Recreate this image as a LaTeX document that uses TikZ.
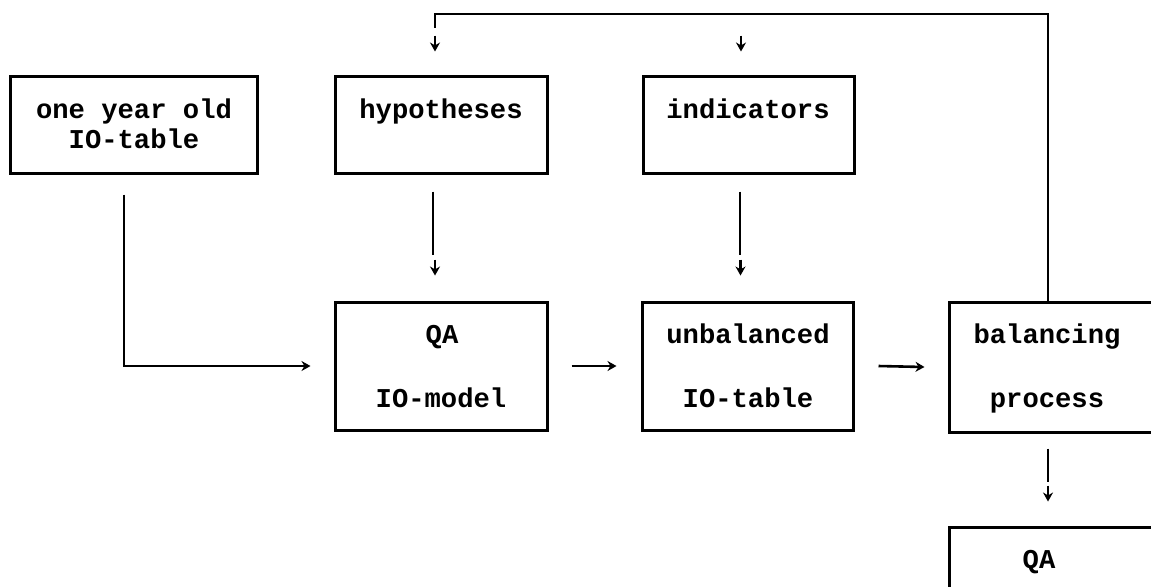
\documentclass[tikz,border=0pt]{standalone}
\usepackage{fontspec}
\setmainfont{Liberation Mono}
\usetikzlibrary{arrows.meta,calc}
\begin{document}
\begin{tikzpicture}[x=0.5pt,y=-0.5pt,
  box/.style={draw,line width=1.5pt,inner sep=0pt},
  txt/.style={font=\fontsize{13.6}{12}\bfseries\selectfont,inner sep=0pt,anchor=base},
  ln/.style={line width=1.3pt},
  arr/.style={line width=1.3pt,-{Stealth[length=4.5pt,width=5pt]}}]
\useasboundingbox (0,0) rectangle (1151,586);
\clip (0,0) rectangle (1151,586);
% boxes
\node[box,minimum width=123.5pt,minimum height=48.5pt] (old) at (133.5,124.5) {};
\node[box,minimum width=106pt,minimum height=48.5pt] (hyp) at (441,124.5) {};
\node[box,minimum width=105.5pt,minimum height=48.5pt] (ind) at (748.5,124.5) {};
\node[box,minimum width=106pt,minimum height=64pt] (qa) at (441,366) {};
\node[box,minimum width=105.5pt,minimum height=64pt] (unb) at (747.5,366) {};
\node[box,minimum width=106pt,minimum height=65pt] (bal) at (1055,367) {};
\node[box,minimum width=106pt,minimum height=64pt] (qab) at (1055,591) {};
% texts
\node[txt] (t1) at (134,118) {one year old};
\node[txt] (t2) at (134,148) {IO-table};
\node[txt] (t3) at (441,118) {hypotheses};
\node[txt] (t4) at (748,118) {indicators};
\node[txt] (t5) at (442,343) {QA};
\node[txt] (t6) at (441,407) {IO-model};
\node[txt] (t7) at (748,343) {unbalanced};
\node[txt] (t8) at (748,407) {IO-table};
\node[txt] (t9) at (1047,343) {balancing};
\node[txt] (t10) at (1047,407) {process};
\node[txt] (t11) at (1039,568) {QA};
% old -> qa
\coordinate (c1) at ($(old.south)+(-9.5,20)$);
\coordinate (c2) at (c1 |- qa.west);
\draw[arr] (c1) -- (c2) -- ($(qa.west)+(-23,0)$);
% horizontal arrows
\draw[arr] ($(qa.east)+(23,0)$) -- ($(unb.west)+(-24,0)$);
\draw[arr] ($(unb.east)+(24,0)$) -- ($(bal.west)+(-23,0)$);
% hyp -> qa
\draw[ln] ($(hyp.south)+(-8,17)$) -- ($(hyp.south)+(-8,80)$);
\draw[arr] ($(qa.north)+(-6,-41)$) -- ($(qa.north)+(-6,-25)$);
% ind -> unb
\draw[ln] ($(ind.south)+(-8.5,17)$) -- ($(ind.south)+(-8.5,80)$);
\draw[arr] ($(unb.north)+(-7,-41)$) -- ($(unb.north)+(-7,-25)$);
% bal -> qab
\draw[ln] ($(bal.south)+(-7,15)$) -- ($(bal.south)+(-7,48)$);
\draw[arr] ($(qab.north)+(-7,-40)$) -- ($(qab.north)+(-7,-24)$);
% feedback
\coordinate (f1) at ($(bal.north)+(-7,0)$);
\coordinate (f2) at (1048,14);
\coordinate (f3) at (435,14);
\coordinate (f4) at (435,28);
\draw[ln] (f1) -- (f2) -- (f3) -- (f4);
\draw[arr] ($(hyp.north)+(-6,-39)$) -- ($(hyp.north)+(-6,-23)$);
\draw[arr] ($(ind.north)+(-7.5,-39)$) -- ($(ind.north)+(-7.5,-23)$);
\end{tikzpicture}
\end{document}
